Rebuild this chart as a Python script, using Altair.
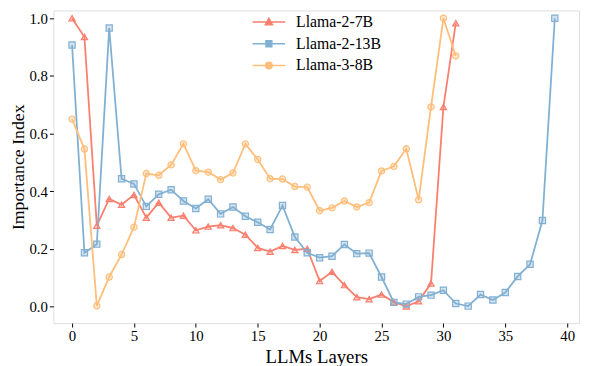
import altair as alt
import pandas as pd

series_names = ["Llama-2-7B", "Llama-2-13B", "Llama-3-8B"]
colors = ["#FA7F6F", "#82B0D2", "#FFBE7A"]
shapes = ["triangle-up", "square", "circle"]

llama2_7b = [1.0, 0.935, 0.28, 0.373, 0.353, 0.387, 0.308, 0.36, 0.308, 0.315,
             0.264, 0.277, 0.282, 0.272, 0.249, 0.203, 0.19, 0.21, 0.196, 0.20,
             0.088, 0.12, 0.074, 0.032, 0.025, 0.041, 0.015, 0.0, 0.018, 0.08,
             0.692, 0.983]
llama2_13b = [0.907, 0.186, 0.216, 0.966, 0.443, 0.425, 0.347, 0.389, 0.405, 0.366,
              0.34, 0.372, 0.321, 0.345, 0.313, 0.292, 0.267, 0.35, 0.241, 0.186,
              0.169, 0.174, 0.215, 0.183, 0.185, 0.102, 0.014, 0.008, 0.033, 0.039,
              0.056, 0.01, 0.001, 0.041, 0.022, 0.048, 0.104, 0.146, 0.298, 1.0]
llama3_8b = [0.65, 0.546, 0.002, 0.102, 0.18, 0.275, 0.461, 0.455, 0.491, 0.564,
             0.471, 0.466, 0.44, 0.463, 0.564, 0.51, 0.443, 0.442, 0.416, 0.414,
             0.332, 0.342, 0.366, 0.345, 0.36, 0.47, 0.486, 0.547, 0.37, 0.692,
             1.0, 0.869]

x_ticks = [0, 5, 10, 15, 20, 25, 30, 35, 40]
y_ticks = [0.0, 0.2, 0.4, 0.6, 0.8, 1.0]

rows = []
for name, vals in zip(series_names, [llama2_7b, llama2_13b, llama3_8b]):
    for i, v in enumerate(vals):
        rows.append({"layer": i, "value": v, "series": name})
df = pd.DataFrame(rows)

FONT = "Liberation Serif"
color_scale = alt.Scale(domain=series_names, range=colors)
shape_scale = alt.Scale(domain=series_names, range=shapes)

tri_path = "M-1,0H1M-0.22,0.17L0,-0.23L0.22,0.17Z"
sq_path = "M-1,0H1M-0.18,-0.18H0.18V0.18H-0.18Z"
ci_path = "M-1,0H1M-0.2,0A0.2,0.2 0 1,0 0.2,0A0.2,0.2 0 1,0 -0.2,0Z"
legend_shape_scale = alt.Scale(domain=series_names, range=[tri_path, sq_path, ci_path])

xenc = alt.X("layer:Q", scale=alt.Scale(domain=[-1.51, 40.96], nice=False, zero=False),
             axis=alt.Axis(values=x_ticks, title="LLMs Layers", grid=False, domain=False,
                           tickColor="black", tickSize=4, labelFont=FONT, labelFontSize=15,
                           labelColor="black", labelPadding=2, titleFont=FONT,
                           titleFontSize=19, titleFontWeight="normal", titleColor="black",
                           titlePadding=4, labelFlush=False))
yenc = alt.Y("value:Q", scale=alt.Scale(domain=[-0.058, 1.027], nice=False, zero=False),
             axis=alt.Axis(values=y_ticks, format=".1f", title="Importance Index", grid=False,
                           domain=False, tickColor="black", tickSize=4, labelFont=FONT,
                           labelFontSize=15, labelColor="black", labelPadding=2,
                           titleFont=FONT, titleFontSize=18, titleFontWeight="normal",
                           titleColor="black", titlePadding=2, labelFlush=False))

legend = alt.Legend(
    title=None, orient="none", legendX=201, legendY=1, padding=0,
    labelFont=FONT, labelFontSize=16, labelColor="black", labelOffset=10,
    symbolSize=1089, clipHeight=21.5, rowPadding=0, symbolStrokeWidth=1.5,
)

lines = alt.Chart(df).mark_line(strokeWidth=1.8).encode(
    x=xenc, y=yenc,
    color=alt.Color("series:N", scale=color_scale, legend=None),
    detail="series:N",
    order="layer:Q",
)

points = alt.Chart(df).mark_point(filled=True, size=40, fillOpacity=0.35,
                                  strokeWidth=1.2, opacity=1).encode(
    x=xenc, y=yenc,
    color=alt.Color("series:N", scale=color_scale, legend=None),
    shape=alt.Shape("series:N", scale=shape_scale, legend=None),
    stroke=alt.Stroke("series:N", scale=color_scale, legend=None),
)

legend_layer = alt.Chart(df).transform_filter("false").mark_point(
    filled=True, fillOpacity=0.35, strokeWidth=1.5, opacity=1).encode(
    x=xenc, y=yenc,
    color=alt.Color("series:N", scale=color_scale, legend=legend),
    shape=alt.Shape("series:N", scale=legend_shape_scale, legend=legend),
    stroke=alt.Stroke("series:N", scale=color_scale, legend=legend),
)

chart = alt.layer(lines, points, legend_layer).resolve_scale(
    shape="independent", color="independent", stroke="independent"
).properties(
    width=533, height=317,
    autosize=alt.AutoSizeParams(type="none"),
    padding={"left": 46, "top": 0, "right": 5, "bottom": 41},
).configure_view(stroke="black", strokeWidth=1.2).configure_axis(
    labelFont=FONT, titleFont=FONT
).configure_legend(labelFont=FONT).configure(background="white", font=FONT)

chart.save("out.html", embed_options={"renderer": "svg", "actions": False})
